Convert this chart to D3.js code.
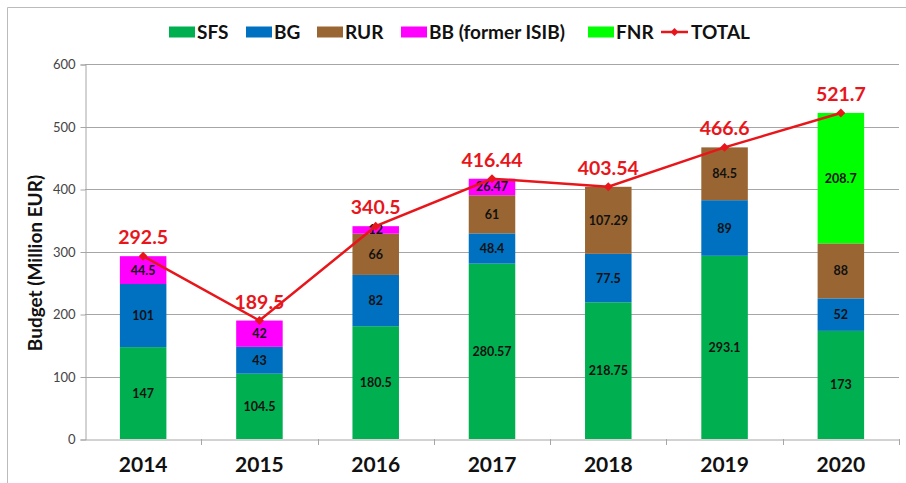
<!DOCTYPE html>
<html>
<head>
<meta charset="utf-8">
<script src="https://cdn.jsdelivr.net/npm/d3@7"></script>
<style>
  body { margin: 0; background: #fff; }
  svg { display: block; }
</style>
</head>
<body>
<div id="chart"></div>
<script>
var years = ['2014', '2015', '2016', '2017', '2018', '2019', '2020'];
var series = ['SFS', 'BG', 'RUR', 'BB (former ISIB)', 'FNR'];
var sfs = [147, 104.5, 180.5, 280.57, 218.75, 293.1, 173];
var bg  = [101, 43, 82, 48.4, 77.5, 89, 52];
var rur = [0, 0, 66, 61, 107.29, 84.5, 88];
var bb  = [44.5, 42, 12, 26.47, 0, 0, 0];
var fnr = [0, 0, 0, 0, 0, 0, 208.7];
var total = [292.5, 189.5, 340.5, 416.44, 403.54, 466.6, 521.7];
var y_ticks = [0, 100, 200, 300, 400, 500, 600];

var colors = ['#00B050', '#0070C0', '#996633', '#FF00FF', '#00FF00'];
var red = '#E8161B';
var font = 'Lato, "Open Sans", Arial, sans-serif';

var chart_width = 906;
var chart_height = 483;
var plot_left = 85, plot_right = 899, plot_top = 64, plot_bottom = 439;

var table = years.map(function(y, i) {
	return { year: y, 'SFS': sfs[i], 'BG': bg[i], 'RUR': rur[i],
		'BB (former ISIB)': bb[i], 'FNR': fnr[i], total: total[i] };
});
var stacked = d3.stack().keys(series)(table);

var svg = d3.select('#chart')
	.append('svg')
	.attr('width', chart_width)
	.attr('height', chart_height)
	.style('font-family', font);

// outer frame
svg.append('path')
	.attr('d', 'M7.5,483 L7.5,7.5 L906,7.5')
	.attr('fill', 'none')
	.attr('stroke', '#bbb')
	.attr('stroke-width', 1);

var x_scale = d3.scaleBand().domain(years).range([plot_left, plot_right]).paddingInner(0.6).paddingOuter(0.3);
var x_band = d3.scaleBand().domain(years).range([plot_left, plot_right]);
var y_scale = d3.scaleLinear().domain([0, 600]).range([plot_bottom, plot_top]);

// grid
svg.append('g')
	.selectAll('line')
	.data(y_ticks.slice(1))
	.enter()
	.append('line')
	.attr('x1', plot_left).attr('x2', plot_right)
	.attr('y1', function(d) { return Math.round(y_scale(d)) + 0.5; })
	.attr('y2', function(d) { return Math.round(y_scale(d)) + 0.5; })
	.attr('stroke', '#a6a6a6');

// y axis
var y_axis = d3.axisLeft(y_scale).tickValues(y_ticks).tickSize(5).tickPadding(5);
var gy = svg.append('g')
	.attr('transform', 'translate(' + (plot_left + 0.5) + ',0.5)')
	.call(y_axis);
gy.selectAll('path, line').attr('stroke', '#a6a6a6');
gy.selectAll('text').attr('font-size', 13).attr('fill', '#444').attr('font-family', font);

svg.append('text')
	.attr('transform', 'translate(42,263) rotate(-90)')
	.attr('text-anchor', 'middle')
	.attr('font-size', 19)
	.attr('font-weight', 'bold')
	.attr('fill', '#111')
	.text('Budget (Million EUR)');

// bars
var layers = svg.append('g')
	.selectAll('g')
	.data(stacked)
	.enter()
	.append('g')
	.attr('fill', function(d, i) { return colors[i]; });

layers.selectAll('rect')
	.data(function(d) { return d; })
	.enter()
	.append('rect')
	.attr('x', function(d) { return x_scale(d.data.year); })
	.attr('width', x_scale.bandwidth())
	.attr('y', function(d) { return y_scale(d[1]); })
	.attr('height', function(d) { return y_scale(d[0]) - y_scale(d[1]); });

layers.selectAll('text')
	.data(function(d) { return d.filter(function(e) { return e[1] - e[0] > 0; }); })
	.enter()
	.append('text')
	.attr('x', function(d) { return x_scale(d.data.year) + x_scale.bandwidth() / 2; })
	.attr('y', function(d) { return y_scale((d[0] + d[1]) / 2) + 4.5; })
	.attr('text-anchor', 'middle')
	.attr('font-size', 12.5)
	.attr('font-weight', 'bold')
	.attr('fill', '#111')
	.text(function(d) { return +(d[1] - d[0]).toFixed(2); });

// x axis
var x_axis = d3.axisBottom(x_band).tickSize(0).tickPadding(18);
var gx = svg.append('g')
	.attr('transform', 'translate(0,' + (plot_bottom + 0.5) + ')')
	.call(x_axis);
gx.select('.domain').attr('stroke', '#a6a6a6');
gx.selectAll('text').attr('font-size', 21).attr('font-weight', 'bold').attr('fill', '#111').attr('font-family', font);
svg.append('g')
	.selectAll('line')
	.data(years)
	.enter()
	.append('line')
	.attr('x1', function(d, i) { return Math.round(plot_left + x_band.step() * (i + 1)) + 0.5; })
	.attr('x2', function(d, i) { return Math.round(plot_left + x_band.step() * (i + 1)) + 0.5; })
	.attr('y1', plot_bottom).attr('y2', plot_bottom + 6)
	.attr('stroke', '#a6a6a6');

// total line
var line = d3.line()
	.x(function(d) { return x_band(d.year) + x_band.bandwidth() / 2; })
	.y(function(d) { return y_scale(d.total); });

svg.append('path')
	.datum(table)
	.attr('d', line)
	.attr('fill', 'none')
	.attr('stroke', red)
	.attr('stroke-width', 2.5);

svg.append('g')
	.selectAll('path')
	.data(table)
	.enter()
	.append('path')
	.attr('d', d3.symbol().type(d3.symbolSquare).size(40))
	.attr('transform', function(d) {
		return 'translate(' + (x_band(d.year) + x_band.bandwidth() / 2) + ',' + y_scale(d.total) + ') rotate(45)';
	})
	.attr('fill', red);

svg.append('g')
	.selectAll('text')
	.data(table)
	.enter()
	.append('text')
	.attr('x', function(d) { return x_band(d.year) + x_band.bandwidth() / 2; })
	.attr('y', function(d) { return y_scale(d.total) - 12; })
	.attr('text-anchor', 'middle')
	.attr('font-size', 19.5)
	.attr('font-weight', 'bold')
	.attr('fill', red)
	.text(function(d) { return d.total; });

// legend
var legend_items = series.map(function(s, i) { return { name: s, color: colors[i] }; })
	.concat([{ name: 'TOTAL', color: red, line: true }]);
var legend_x = [169, 246, 317, 401, 588, 661];

var lg = svg.append('g')
	.selectAll('g')
	.data(legend_items)
	.enter()
	.append('g')
	.attr('transform', function(d, i) { return 'translate(' + legend_x[i] + ',32)'; });

lg.filter(function(d) { return !d.line; })
	.append('rect')
	.attr('x', 0).attr('y', -5.5)
	.attr('width', 26).attr('height', 11)
	.attr('fill', function(d) { return d.color; });

var lt = lg.filter(function(d) { return d.line; });
lt.append('line')
	.attr('x1', 0).attr('x2', 27).attr('y1', 0).attr('y2', 0)
	.attr('stroke', red).attr('stroke-width', 2.5);
lt.append('path')
	.attr('d', d3.symbol().type(d3.symbolSquare).size(32))
	.attr('transform', 'translate(13.5,0) rotate(45)')
	.attr('fill', red);

lg.append('text')
	.attr('x', function(d) { return d.line ? 30 : 28; })
	.attr('y', 7)
	.attr('font-size', 19)
	.attr('font-weight', 'bold')
	.attr('fill', '#111')
	.text(function(d) { return d.name; });
</script>
</body>
</html>
